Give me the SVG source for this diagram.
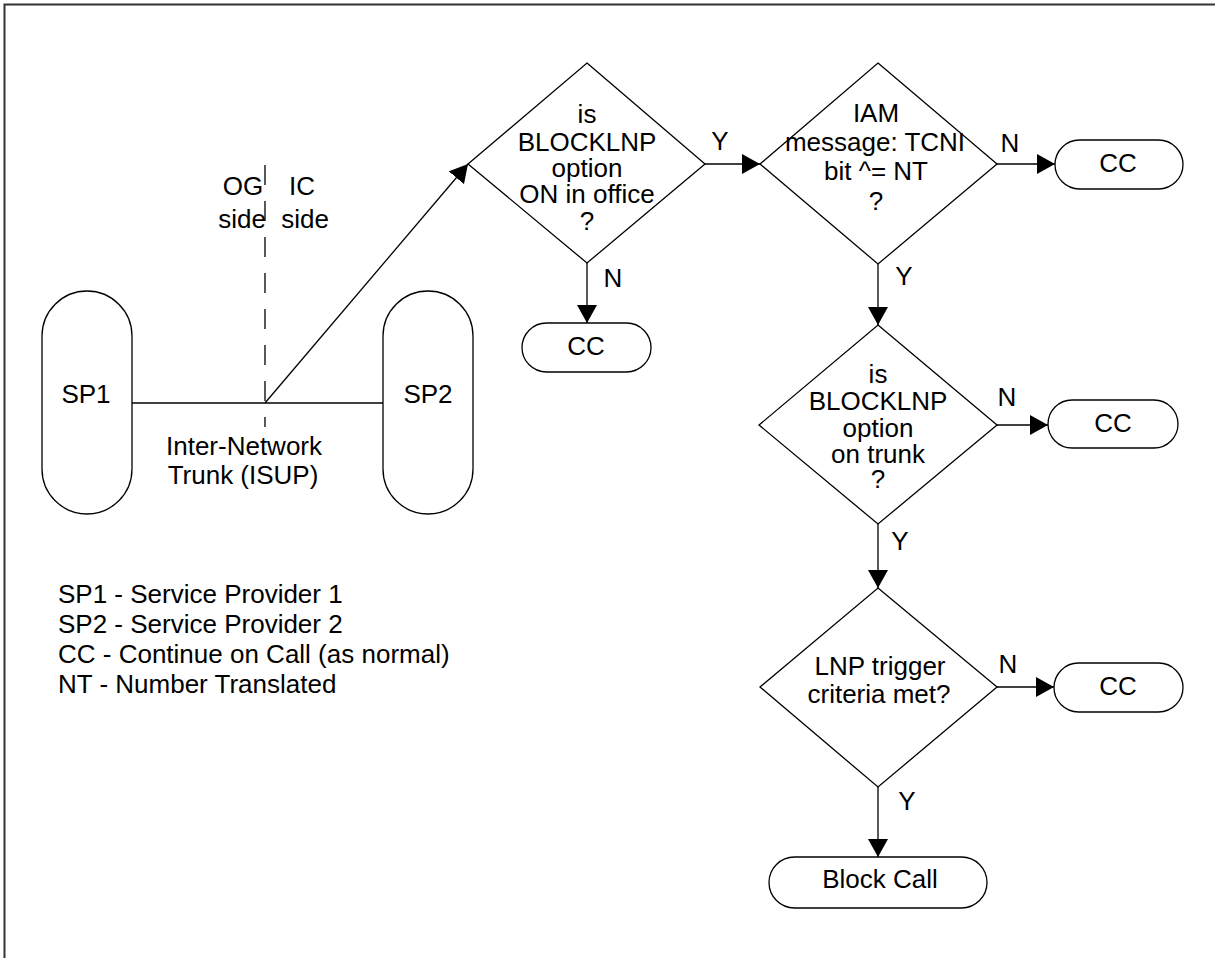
<svg xmlns="http://www.w3.org/2000/svg" width="1215" height="958" viewBox="0 0 1215 958">
<style>
text{font-family:"Liberation Sans",Arial,sans-serif;font-size:26px;fill:#000;text-anchor:middle}
.s{fill:#fff;stroke:#000;stroke-width:1.3}
.c{fill:none;stroke:#000;stroke-width:1.3}
.l{text-anchor:start}
</style>
<defs>
<marker id="ah" markerWidth="18" markerHeight="20" refX="18" refY="10" orient="auto" markerUnits="userSpaceOnUse">
<path d="M0,0 L18,10 L0,20 Z" fill="#000"/>
</marker>
</defs>
<rect width="1215" height="958" fill="#fff"/>
<path d="M4.5,958 V4.5 H1215" fill="none" stroke="#333" stroke-width="2"/>

<g id="connectors">
<line class="c" x1="132" y1="403" x2="383" y2="403"/>
<line class="c" x1="265" y1="165" x2="265" y2="427" stroke-dasharray="20 16"/>
<line class="c" x1="265" y1="403" x2="468" y2="164" marker-end="url(#ah)"/>
<line class="c" x1="705" y1="164" x2="760" y2="164" marker-end="url(#ah)"/>
<line class="c" x1="587" y1="263" x2="587" y2="323" marker-end="url(#ah)"/>
<line class="c" x1="997" y1="164" x2="1055" y2="164" marker-end="url(#ah)"/>
<line class="c" x1="878" y1="264" x2="878" y2="325" marker-end="url(#ah)"/>
<line class="c" x1="997" y1="425" x2="1048" y2="425" marker-end="url(#ah)"/>
<line class="c" x1="878" y1="524" x2="878" y2="588" marker-end="url(#ah)"/>
<line class="c" x1="997" y1="687" x2="1054" y2="687" marker-end="url(#ah)"/>
<line class="c" x1="878" y1="787" x2="878" y2="857" marker-end="url(#ah)"/>
<text x="720" y="150">Y</text>
<text x="613" y="287">N</text>
<text x="1010" y="152">N</text>
<text x="904" y="285">Y</text>
<text x="1007" y="406">N</text>
<text x="900" y="550">Y</text>
<text x="1008" y="673">N</text>
<text x="907" y="810">Y</text>
</g>

<g id="sp1"><rect class="s" x="42" y="291" width="90" height="223" rx="45"/><text x="86" y="403">SP1</text></g>
<g id="sp2"><rect class="s" x="383" y="291" width="90" height="223" rx="45"/><text x="428" y="403">SP2</text></g>
<g id="trunk-label"><text x="244" y="455">Inter-Network</text><text x="243" y="484">Trunk (ISUP)</text></g>
<g id="og-side"><text x="243" y="195">OG</text><text x="242" y="228">side</text></g>
<g id="ic-side"><text x="302" y="195">IC</text><text x="305" y="228">side</text></g>

<g id="d1"><path class="s" d="M587,63 L705,164 L587,263 L468,164 Z"/>
<text x="587" y="123">is</text><text x="587" y="151">BLOCKLNP</text><text x="587" y="177">option</text><text x="587" y="203">ON in office</text><text x="587" y="230">?</text></g>
<g id="cc1"><rect class="s" x="522" y="323" width="129" height="49" rx="24.5"/><text x="586" y="355">CC</text></g>

<g id="d2"><path class="s" d="M878,63 L997,164 L878,264 L760,164 Z"/>
<text x="876" y="122">IAM</text><text x="875" y="151">message: TCNI</text><text x="876" y="180">bit ^= NT</text><text x="876" y="210">?</text></g>
<g id="cc2"><rect class="s" x="1055" y="140" width="128" height="49" rx="24.5"/><text x="1118" y="172">CC</text></g>

<g id="d3"><path class="s" d="M878,325 L997,425 L878,524 L759,425 Z"/>
<text x="878" y="383">is</text><text x="878" y="410">BLOCKLNP</text><text x="878" y="437">option</text><text x="878" y="463">on trunk</text><text x="878" y="488">?</text></g>
<g id="cc3"><rect class="s" x="1048" y="400" width="130" height="48" rx="24"/><text x="1113" y="432">CC</text></g>

<g id="d4"><path class="s" d="M878,588 L997,687 L878,787 L760,687 Z"/>
<text x="880" y="675">LNP trigger</text><text x="879" y="703">criteria met?</text></g>
<g id="cc4"><rect class="s" x="1054" y="663" width="129" height="49" rx="24.5"/><text x="1118" y="695">CC</text></g>

<g id="block"><rect class="s" x="769" y="857" width="218" height="51" rx="25.5"/><text x="880" y="888">Block Call</text></g>

<g id="legend">
<text class="l" x="58" y="603">SP1 - Service Provider 1</text>
<text class="l" x="58" y="633">SP2 - Service Provider 2</text>
<text class="l" x="58" y="663">CC - Continue on Call (as normal)</text>
<text class="l" x="58" y="693">NT - Number Translated</text>
</g>
</svg>
